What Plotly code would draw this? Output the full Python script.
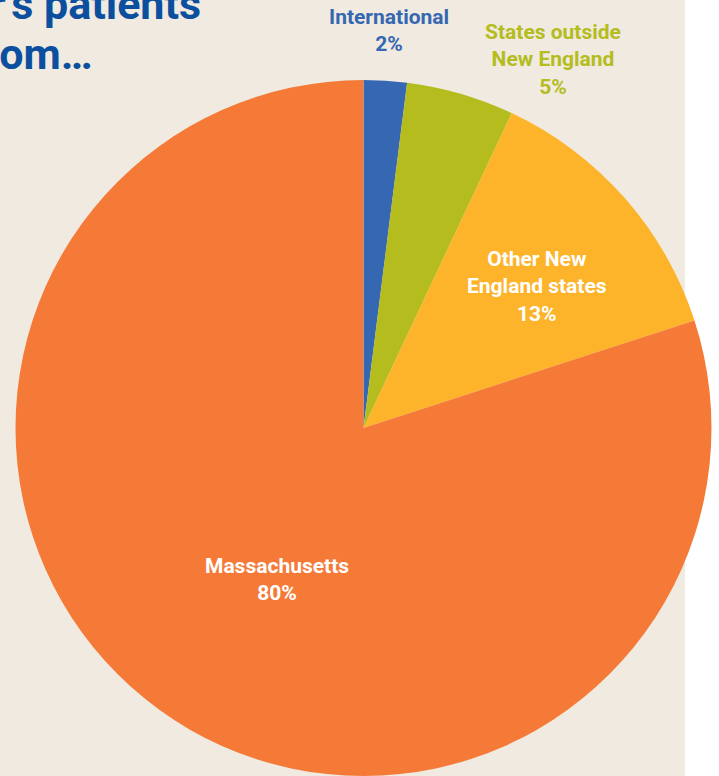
import plotly.graph_objects as go

labels = ["International", "States outside<br>New England", "Other New<br>England states", "Massachusetts"]
values = [2, 5, 13, 80]
colors = ["#3567b2", "#b4bc1e", "#fdb42a", "#f57a38"]
text_colors = ["#3567b2", "#b4bc1e", "#ffffff", "#ffffff"]
title_lines = ["Dana-Farber's patients", "come from…"]

W, H = 719, 776
FONT = "Roboto, Liberation Sans, Arial, sans-serif"

fig = go.Figure(go.Pie(
    labels=labels, values=values, sort=False, direction="clockwise", rotation=0,
    marker=dict(colors=colors, line=dict(width=0)),
    textinfo="none", hoverinfo="label+percent", showlegend=False,
    domain=dict(x=[15 / W, 712 / W], y=[0, 696 / H]),
))

# label centres in pixels (x, y from top-left)
label_pos = [(389, 31), (553, 60), (537, 286), (277, 579)]
annotations = []
for lab, v, (px, py), tc in zip(labels, values, label_pos, text_colors):
    annotations.append(dict(
        x=px / W, y=1 - py / H, xref="paper", yref="paper",
        text=f"<b>{lab}<br>{v}%</b>", showarrow=False, align="center",
        font=dict(family=FONT, size=21, color=tc),
        xanchor="center", yanchor="middle",
    ))

annotations.append(dict(x=203 / W, y=1 - 4 / H, xref="paper", yref="paper",
                        text=f"<b>{title_lines[0]}</b>", showarrow=False,
                        xanchor="right", yanchor="middle",
                        font=dict(family=FONT, size=43, color="#0b4f9e")))
annotations.append(dict(x=95 / W, y=1 - 54 / H, xref="paper", yref="paper",
                        text=f"<b>{title_lines[1]}</b>", showarrow=False,
                        xanchor="right", yanchor="middle",
                        font=dict(family=FONT, size=43, color="#0b4f9e")))

fig.update_layout(
    width=W, height=H, margin=dict(l=0, r=0, t=0, b=0),
    paper_bgcolor="#ffffff",
    shapes=[dict(type="rect", xref="paper", yref="paper", x0=0, x1=685 / W, y0=0, y1=1,
                 fillcolor="#f0eae0", line=dict(width=0), layer="below")],
    annotations=annotations,
)

fig.write_html("out.html")
